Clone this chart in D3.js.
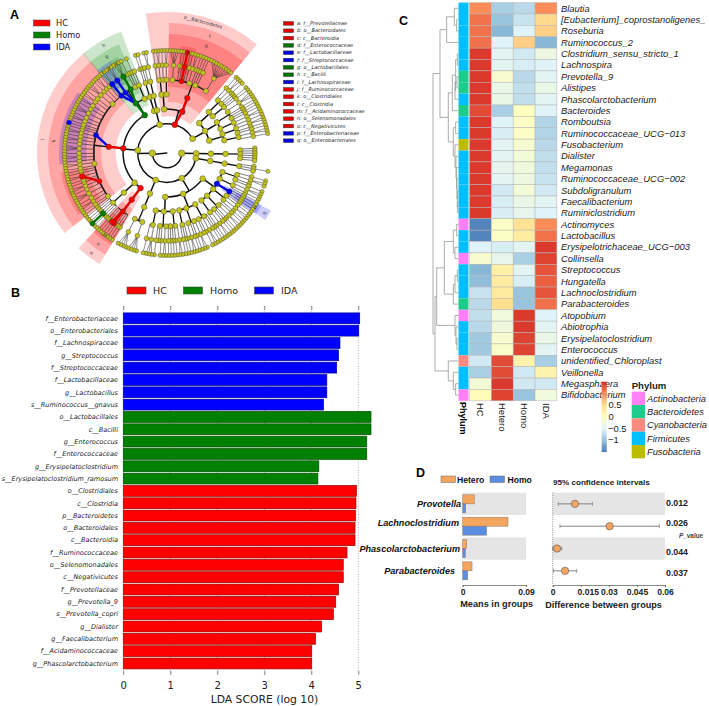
<!DOCTYPE html>
<html>
<head>
<meta charset="utf-8">
<script src="https://cdn.jsdelivr.net/npm/d3@7"></script>
<style>
  body { margin: 0; background: #fff; }
  svg { display: block; }
  .mpl { font-family: "DejaVu Sans", sans-serif; }
  .arial { font-family: "Liberation Sans", Arial, sans-serif; }
</style>
</head>
<body>
<svg id="fig" width="709" height="706"></svg>
<script>
//Colours of the three LEfSe groups
const groupNames = ["HC", "Homo", "IDA"];
const groupColors = ["#ff0000", "#008000", "#0000ff"];

//A: the clades which are highlighted
const hcClades = ["p__Bacteroidetes", "c__Bacteroidia", "o__Bacteroidales", "f__Prevotellaceae", "g__Prevotella_9", "s__Prevotella_copri",
  "c__Clostridia", "o__Clostridiales", "f__Ruminococcaceae", "g__Faecalibacterium",
  "c__Negativicutes", "o__Selenomonadales", "f__Acidaminococcaceae", "g__Dialister", "g__Phascolarctobacterium"];
const homoClades = ["c__Bacilli", "o__Lactobacillales", "f__Enterococcaceae", "g__Enterococcus", "g__Erysipelatoclostridium", "s__Erysipelatoclostridium_ramosum"];
const idaClades = ["f__Lachnospiraceae", "s__Ruminococcus__gnavus", "f__Lactobacillaceae", "g__Lactobacillus",
  "f__Streptococcaceae", "g__Streptococcus", "o__Enterobacteriales", "f__Enterobacteriaceae"];

//A: legend of the cladogram, letter comes from the position
const cladeLegend = ["f__Prevotellaceae", "o__Bacteroidales", "c__Bacteroidia", "f__Enterococcaceae", "f__Lactobacillaceae", "f__Streptococcaceae",
  "o__Lactobacillales", "c__Bacilli", "f__Lachnospiraceae", "f__Ruminococcaceae", "o__Clostridiales", "c__Clostridia",
  "f__Acidaminococcaceae", "o__Selenomonadales", "c__Negativicutes", "f__Enterobacteriaceae", "o__Enterobacteriales"];

//A: taxonomy, one list per phylum. [name, ...children], a number n is an unnamed clade with n leaves under it
const archaea = ["", ["", ["", ["", ["", 0, 0], ["", 0, 0], ["", 0, 0]]]]];
const tenericutes = ["", ["", ["", ["", 0, 1, 0]]]];
const proteobacteria = ["",
  ["", ["", ["", 1, 2], ["", 0, 1]], ["", ["", 2, 1, 1]],
    ["o__Enterobacteriales", ["f__Enterobacteriaceae", 1, 1, 1]],
    ["", ["", 1, 1], ["", 2, 1]], ["", ["", 1, 2, 1], ["", 1, 1]], ["", ["", 2, 1]]],
  ["", ["", ["", 1, 1, 2], ["", 1, 0]], ["", ["", 2, 1], ["", 1, 2]], ["", ["", 1, 1, 1]]],
  ["", ["", ["", 2, 1, 1], ["", 1]], ["", ["", 1, 2], ["", 1, 0, 1]], ["", ["", 3, 1]]]];
const saccharibacteria = ["", ["", ["", ["", 4], ["", 4]]]];
const firmicutes = ["p__Firmicutes",
  ["c__Negativicutes", ["o__Selenomonadales", ["f__Acidaminococcaceae", 1, 1, 1, ["g__Phascolarctobacterium", 0], ["g__Dialister", 0], 1, 1]]],
  ["", ["", ["", 1, 1, ["g__Erysipelatoclostridium", ["s__Erysipelatoclostridium_ramosum"]], 1, 1, 1]]],
  ["c__Clostridia", ["o__Clostridiales",
    ["", 1, 1],
    ["f__Ruminococcaceae", 2, 1, 3, 1, 2, 1, 1, ["g__Faecalibacterium", 0, 0], 1, 1],
    ["", 1, 2],
    ["f__Lachnospiraceae", 1, 2, 1, 3, 1, 2, 1, 2, 1, ["", ["s__Ruminococcus__gnavus"]], 1, 2, 1, 3, 1, 2],
    ["", 2, 1, 3, 1, 2, 1]]],
  ["c__Bacilli",
    ["o__Lactobacillales",
      ["f__Streptococcaceae", ["g__Streptococcus", 0, 0]],
      ["f__Lactobacillaceae", ["g__Lactobacillus", 0, 0, 0]],
      ["f__Enterococcaceae", ["g__Enterococcus", 0, 0, 0]],
      ["", 1, 0]],
    ["", ["", 1, 0]]]];
const fusobacteria = ["", ["", ["", ["", 1, 1]]], ["", ["", ["", 0, 2]]]];
const bacteroidetes = ["p__Bacteroidetes",
  ["", ["", ["", 1, 2], ["", 1]], ["", ["", 2]]],
  ["c__Bacteroidia", ["o__Bacteroidales",
    ["", 4],
    ["f__Prevotellaceae", 1, 1, ["g__Prevotella_9", ["s__Prevotella_copri"]], 1, 1],
    ["", 2, 1],
    ["", 1, 1, 1],
    ["", 9]]]];
const actinobacteria = ["",
  ["", ["", ["", 1, 2], ["", 1, 0]], ["", ["", 1, 1]]],
  ["", ["", ["", 3, 1], ["", 1, 1, 1]], ["", ["", 2]]],
  ["", ["", ["", 1, 2, 1], ["", 1]], ["", ["", 2, 1]]]];
const bacteria = ["", tenericutes, proteobacteria, saccharibacteria, firmicutes, fusobacteria, bacteroidetes, actinobacteria];

//B: LDA scores, top to bottom
const ldaNames = ["f__Enterobacteriaceae", "o__Enterobacteriales", "f__Lachnospiraceae", "g__Streptococcus", "f__Streptococcaceae", "f__Lactobacillaceae", "g__Lactobacillus", "s__Ruminococcus__gnavus",
  "o__Lactobacillales", "c__Bacilli", "g__Enterococcus", "f__Enterococcaceae", "g__Erysipelatoclostridium", "s__Erysipelatoclostridium_ramosum",
  "o__Clostridiales", "c__Clostridia", "p__Bacteroidetes", "o__Bacteroidales", "c__Bacteroidia", "f__Ruminococcaceae", "o__Selenomonadales", "c__Negativicutes", "f__Prevotellaceae", "g__Prevotella_9", "s__Prevotella_copri", "g__Dialister", "g__Faecalibacterium", "f__Acidaminococcaceae", "g__Phascolarctobacterium"];
const ldaScores = [5.03, 5.01, 4.61, 4.58, 4.54, 4.33, 4.33, 4.26,
  5.27, 5.27, 5.18, 5.18, 4.16, 4.14,
  4.96, 4.95, 4.94, 4.93, 4.93, 4.76, 4.68, 4.68, 4.58, 4.52, 4.47, 4.22, 4.09, 4.01, 4.01];
const ldaGroups = [2, 2, 2, 2, 2, 2, 2, 2, 1, 1, 1, 1, 1, 1, 0, 0, 0, 0, 0, 0, 0, 0, 0, 0, 0, 0, 0, 0, 0];

//C: heatmap
const heatColumns = ["HC", "Hetero", "Homo", "IDA"];
const heatGenera = ["Blautia", "[Eubacterium]_coprostanoligenes_", "Roseburia", "Ruminococcus_2", "Clostridium_sensu_stricto_1", "Lachnospira", "Prevotella_9", "Alistipes", "Phascolarctobacterium", "Bacteroides", "Romboutsia", "Ruminococcaceae_UCG\u2212013", "Fusobacterium", "Dialister", "Megamonas", "Ruminococcaceae_UCG\u2212002", "Subdoligranulum", "Faecalibacterium", "Ruminiclostridium",
  "Actinomyces", "Lactobacillus", "Erysipelotrichaceae_UCG\u2212003", "Collinsella", "Streptococcus", "Hungatella", "Lachnoclostridium", "Parabacteroides",
  "Atopobium", "Abiotrophia", "Erysipelatoclostridium", "Enterococcus", "unidentified_Chloroplast", "Veillonella", "Megasphaera", "Bifidobacterium"];
const heatValues = [
  [1.0, -0.85, -0.75, 1.0], [1.15, -0.95, -0.65, 0.55], [1.15, -1.05, -0.5, 0.6], [1.15, -0.5, 0.6, -1.05],
  [1.45, -0.45, -0.6, -0.3], [1.45, -0.45, -0.55, -0.5], [1.45, -0.15, -0.75, -0.45], [1.45, -0.35, -0.7, -0.35],
  [1.45, -0.35, -0.7, -0.45], [1.35, -0.85, 0.0, -0.5], [1.45, -0.5, -0.05, -0.8], [1.45, -0.55, -0.05, -0.8],
  [1.45, -0.45, -0.15, -0.75], [1.45, -0.45, -0.2, -0.7], [1.45, -0.4, -0.25, -0.7], [1.45, -0.45, -0.3, -0.65],
  [1.45, -0.6, -0.2, -0.6], [1.45, -0.55, -0.35, -0.45], [1.45, -0.55, -0.4, -0.5],
  [-1.4, -0.05, 0.45, 1.0], [-1.4, -0.05, 0.3, 1.15], [-0.5, -0.55, -0.45, 1.45], [-0.15, -0.4, -0.85, 1.4],
  [-1.05, 0.25, -0.45, 1.3], [-1.0, 0.3, -0.55, 1.25], [-0.65, 0.35, -0.95, 1.3], [-0.75, 0.5, -0.95, 1.15],
  [-0.7, -0.25, 1.45, -0.5], [-0.75, -0.25, 1.45, -0.45], [-0.9, -0.15, 1.4, -0.35], [-0.9, -0.1, 1.4, -0.45],
  [-0.6, 1.35, 0.2, -0.85], [-0.85, 1.35, -0.6, 0.2], [-0.2, 1.45, -0.6, -0.6], [0.05, 1.4, -0.95, -0.25]];
const phylumNames = ["Actinobacteria", "Bacteroidetes", "Cyanobacteria", "Firmicutes", "Fusobacteria"];
const phylumColors = ["#ff80f7", "#1dcc8a", "#fa8a80", "#00bfff", "#bdbd00"];
const heatPhylum = [3, 3, 3, 3, 3, 3, 1, 1, 3, 1, 3, 3, 4, 3, 3, 3, 3, 3, 3, 0, 3, 3, 0, 3, 3, 3, 1, 0, 3, 3, 3, 2, 3, 3, 0];
const heatStops = [-1.5, -1, -0.5, 0, 0.5, 1, 1.5];
const heatStopColors = ["#4575b4", "#91bfdb", "#e0f3f8", "#ffffbf", "#fee090", "#fc8d59", "#d73027"];
const heatTicks = [0.5, 0, -0.5, -1];

//C: row dendrogram as [height, left, right], numbers are row indexes
const dendroTop = [0.55,
  [0.35, [0.12, 0, [0.05, 1, 2]], 3],
  [0.3, [0.18, [0.08, [0.03, 4, 5], [0.1, [0.04, 6, 7], 8]], 9],
    [0.15, [0.08, 10, 11], [0.1, 12, [0.07, 13, [0.05, 14, [0.04, 15, [0.03, 16, [0.02, 17, 18]]]]]]]]];
const dendroMiddle = [0.42,
  [0.15, [0.05, 19, 20], [0.1, 21, 22]],
  [0.15, [0.1, [0.03, 23, 24], 25], 26]];
const dendroLower = [0.1, 27, [0.07, 28, [0.04, 29, 30]]];
const dendroBottom = [0.3, 31, [0.15, 32, [0.08, 33, 34]]];
const dendroRoot = [0.76, dendroTop, [0.7, [0.65, dendroMiddle, dendroLower], dendroBottom]];

//D: two group comparison
const dGenera = ["Provotella", "Lachnoclostridium", "Phascolarctobacterium", "Parabacteroides"];
const dGroups = ["Hetero", "Homo"];
const dGroupColors = ["#f4a55f", "#5b8ee0"];
const dHeteroMeans = [0.0166, 0.0644, 0.0057, 0.0133];
const dHomoMeans = [0.0043, 0.0341, 0.0038, 0.0071];
const dDiff = [0.0119, 0.0304, 0.0023, 0.0066];
const dDiffLow = [0.003, 0.0039, 0.0, 0.0004];
const dDiffHigh = [0.0212, 0.057, 0.0048, 0.0128];
const dPValues = ["0.012", "0.026", "0.044", "0.037"];
const dMeanTicks = [0, 0.09];
const dDiffTicks = [0, 0.015, 0.03, 0.045, 0.06];

const svg = d3.select("#fig");

function panelLetter(txt, x, y) {
  svg.append("text").attr("class", "arial").attr("x", x).attr("y", y)
    .attr("font-size", 12.5).attr("font-weight", "bold").text(txt);
}
panelLetter("A", 10, 19);
panelLetter("B", 11, 297);
panelLetter("C", 399, 25);
panelLetter("D", 416, 477);

//--- A. cladogram ---
function drawCladogram() {
  const cx = 167, cy = 153, step = 14.65;
  const g = svg.append("g").attr("transform", "translate(" + cx + "," + cy + ")");
  const startDeg = 85;

  function build(n) {
    if (typeof n === "number") return { name: "", kids: d3.range(n).map(() => ({ name: "", kids: [] })) };
    return { name: n[0], kids: n.slice(1).map(build) };
  }
  const root = d3.hierarchy(build(["", archaea, bacteria]), d => d.kids);
  const phylumOf = n => n.ancestors().find(a => a.depth === 2);
  d3.cluster().size([356, 1]).separation((a, b) => phylumOf(a) === phylumOf(b) ? 1 : 2.4)(root);

  //parents sit in the middle of their leaves
  root.each(n => {
    n.deg = startDeg + d3.mean(n.leaves(), l => l.x);
    n.ang = n.deg * Math.PI / 180;
    n.rad = n.depth * step;
  });
  const slot = 356 / root.leaves().length;

  const groupOf = name => hcClades.includes(name) ? 0 : homoClades.includes(name) ? 1 : idaClades.includes(name) ? 2 : -1;
  const nodes = root.descendants();
  const arc = d3.arc();
  const pt = (a, r) => d3.pointRadial(a, r);

  //shaded sectors, shallow ones first
  const shaded = nodes.filter(n => cladeLegend.includes(n.data.name) || n.data.name === "p__Bacteroidetes")
    .sort((a, b) => a.depth - b.depth);
  shaded.forEach(n => {
    const deg = n.leaves().map(l => startDeg + l.x);
    n.a0 = (d3.min(deg) - slot * 0.6) * Math.PI / 180;
    n.a1 = (d3.max(deg) + slot * 0.6) * Math.PI / 180;
    n.outer = 163 - 11 * n.depth;
    n.label = n.data.name === "p__Bacteroidetes" ? n.data.name : String.fromCharCode(97 + cladeLegend.indexOf(n.data.name));
  });
  g.selectAll("path.sector").data(shaded).join("path").attr("class", "sector")
    .attr("d", n => arc({ innerRadius: n.rad + step / 2, outerRadius: n.outer, startAngle: n.a0, endAngle: n.a1 }))
    .attr("fill", n => groupColors[groupOf(n.data.name)]).attr("fill-opacity", 0.2);

  //branches: arcs at the child ring for the inner levels, thin fans further out
  nodes.filter(n => n.children).forEach(n => {
    const childRad = (n.depth + 1) * step;
    const lo = d3.min(n.children, c => c.ang), hi = d3.max(n.children, c => c.ang);
    const width = n.depth <= 3 ? 1.5 : n.depth === 4 ? 1.3 : 0.7;
    if (n.depth <= 4) {
      const [x0, y0] = pt(n.ang, n.rad), [x1, y1] = pt(n.ang, childRad);
      g.append("line").attr("x1", x0).attr("y1", y0).attr("x2", x1).attr("y2", y1).attr("stroke", "#111").attr("stroke-width", width);
      if (hi > lo) g.append("path").attr("d", arc({ innerRadius: childRad, outerRadius: childRad, startAngle: lo, endAngle: hi }))
        .attr("fill", "none").attr("stroke", "#111").attr("stroke-width", width);
    } else if (n.depth === 5) {
      if (hi > lo) g.append("path").attr("d", arc({ innerRadius: n.rad, outerRadius: n.rad, startAngle: lo, endAngle: hi }))
        .attr("fill", "none").attr("stroke", "#222").attr("stroke-width", 0.8);
      n.children.forEach(c => {
        const [x0, y0] = pt(c.ang, n.rad), [x1, y1] = pt(c.ang, childRad);
        g.append("line").attr("x1", x0).attr("y1", y0).attr("x2", x1).attr("y2", y1).attr("stroke", "#222").attr("stroke-width", 0.6);
      });
    } else {
      n.children.forEach(c => {
        const [x0, y0] = pt(n.ang, n.rad), [x1, y1] = pt(c.ang, childRad);
        g.append("line").attr("x1", x0).attr("y1", y0).attr("x2", x1).attr("y2", y1).attr("stroke", "#222").attr("stroke-width", 0.5);
      });
    }
  });

  //thick coloured branch between two highlighted clades, only where the child sits almost straight out of the parent
  nodes.filter(n => n.parent && groupOf(n.data.name) >= 0 && groupOf(n.parent.data.name) >= 0 && Math.abs(n.deg - n.parent.deg) < 8).forEach(n => {
    const [x0, y0] = pt(n.parent.ang, n.parent.rad), [x1, y1] = pt(n.ang, n.rad);
    g.append("line").attr("x1", x0).attr("y1", y0).attr("x2", x1).attr("y2", y1)
      .attr("stroke", d3.color(groupColors[groupOf(n.data.name)]).darker(0.3)).attr("stroke-width", 2.4);
  });

  const sizeByDepth = [0.4, 3.3, 3, 2.9, 2.8, 2.6, 2.4, 2.1];
  g.selectAll("circle").data(nodes.slice().sort((a, b) => groupOf(a.data.name) - groupOf(b.data.name))).join("circle")
    .attr("cx", n => pt(n.ang, n.rad)[0]).attr("cy", n => pt(n.ang, n.rad)[1])
    .attr("r", n => sizeByDepth[n.depth] + (groupOf(n.data.name) >= 0 && n.depth > 5 ? 0.4 : 0))
    .attr("fill", n => groupOf(n.data.name) >= 0 ? groupColors[groupOf(n.data.name)] : "#c4c41e")
    .attr("stroke", "#333").attr("stroke-width", 0.4);

  //sector labels turn with the sector
  g.selectAll("text.sector-label").data(shaded).join("text").attr("class", "mpl sector-label")
    .attr("transform", n => {
      const mid = (n.a0 + n.a1) / 2, deg = mid * 180 / Math.PI, [x, y] = pt(mid, n.outer - 5);
      const lower = ((deg % 360) + 360) % 360;
      return "translate(" + x + "," + y + ") rotate(" + (lower > 90 && lower < 270 ? deg + 180 : deg) + ")";
    })
    .attr("text-anchor", "middle").attr("dy", "0.35em")
    .attr("font-size", 4.6).attr("fill", "#333").text(n => n.label);

  //group legend
  const leg = svg.append("g").attr("class", "mpl");
  groupNames.forEach((name, i) => {
    leg.append("rect").attr("x", 33.5).attr("y", 20 + i * 12).attr("width", 16.5).attr("height", 6)
      .attr("fill", groupColors[i]).attr("stroke", "#444").attr("stroke-width", 0.5);
    leg.append("text").attr("x", 56).attr("y", 26 + i * 12).attr("font-size", 8.2).attr("fill", "#222").text(name);
  });

  //letter legend
  const key = svg.append("g").attr("class", "mpl");
  cladeLegend.forEach((name, i) => {
    const col = groupColors[groupOf(name)];
    const y = 23.4 + i * 7.33;
    key.append("rect").attr("x", 283.5).attr("y", y - 1.8).attr("width", 10).attr("height", 3.6)
      .attr("fill", d3.color(col).darker(0.3)).attr("stroke", "#333").attr("stroke-width", 0.5);
    key.append("text").attr("x", 297).attr("y", y + 1.7).attr("font-size", 5).attr("font-style", "italic").attr("fill", "#222")
      .text(String.fromCharCode(97 + i) + ": " + name);
  });
}

//--- B. LDA bars ---
function drawLda() {
  const g = svg.append("g").attr("class", "mpl");
  const x = d3.scaleLinear().domain([0, 5]).range([123.3, 358.3]);
  const y = d3.scaleBand().domain(ldaNames).range([312.9, 668.9]).paddingInner(0.12).paddingOuter(0);

  x.ticks(5).forEach(t => {
    g.append("line").attr("x1", x(t)).attr("x2", x(t)).attr("y1", 306).attr("y2", 675)
      .attr("stroke", "#777").attr("stroke-width", 0.6).attr("stroke-dasharray", "1,1.6");
  });

  g.selectAll("rect.bar").data(ldaNames).join("rect").attr("class", "bar")
    .attr("x", x(0)).attr("y", d => y(d))
    .attr("width", (d, i) => x(ldaScores[i]) - x(0)).attr("height", y.bandwidth())
    .attr("fill", (d, i) => groupColors[ldaGroups[i]])
    .attr("stroke", (d, i) => d3.color(groupColors[ldaGroups[i]]).darker(1.4)).attr("stroke-width", 0.7);

  g.selectAll("text.name").data(ldaNames).join("text").attr("class", "name")
    .attr("x", 118).attr("y", d => y(d) + y.bandwidth() / 2).attr("dy", "0.35em")
    .attr("text-anchor", "end").attr("font-size", 6.5).attr("font-style", "italic").attr("fill", "#222").text(d => d);

  const bottom = g.append("g").attr("transform", "translate(0,675)")
    .call(d3.axisBottom(x).ticks(5).tickSize(-4).tickPadding(7));
  bottom.select(".domain").remove();
  bottom.selectAll("text").attr("font-size", 10).attr("font-family", "DejaVu Sans").attr("fill", "#222");
  const top = g.append("g").attr("transform", "translate(0,306)")
    .call(d3.axisTop(x).ticks(5).tickSize(-4).tickFormat(""));
  top.select(".domain").remove();
  g.selectAll(".tick line").attr("stroke", "#444").attr("stroke-width", 0.6);

  g.append("text").attr("x", 264.5).attr("y", 702.5).attr("text-anchor", "middle")
    .attr("font-size", 10.8).attr("fill", "#222").text("LDA SCORE (log 10)");

  const swatchX = [127, 183.5, 254.5], labelX = [153, 210, 281];
  groupNames.forEach((name, i) => {
    g.append("rect").attr("x", swatchX[i]).attr("y", 287).attr("width", 19).attr("height", 7)
      .attr("fill", groupColors[i]).attr("stroke", "#444").attr("stroke-width", 0.6);
    g.append("text").attr("x", labelX[i]).attr("y", 293.8).attr("font-size", 9.5).attr("fill", "#222").text(name);
  });
}

//--- C. heatmap ---
function drawHeatmap() {
  const g = svg.append("g").attr("class", "arial");
  const x = d3.scaleBand().domain(heatColumns).range([469.5, 556.9]);
  const y = d3.scaleBand().domain(heatGenera).range([2.6, 400.8]);
  const color = d3.scaleLinear().domain(heatStops).range(heatStopColors);

  //rows
  heatGenera.forEach((name, i) => {
    g.append("rect").attr("x", 458.5).attr("y", y(name)).attr("width", 10).attr("height", y.bandwidth())
      .attr("fill", phylumColors[heatPhylum[i]]);
    g.selectAll(null).data(heatValues[i]).join("rect")
      .attr("x", (d, j) => x(heatColumns[j])).attr("y", y(name))
      .attr("width", x.bandwidth()).attr("height", y.bandwidth())
      .attr("fill", d => color(d)).attr("stroke", "#b5b5b5").attr("stroke-width", 0.5);
    g.append("text").attr("x", 561).attr("y", y(name) + y.bandwidth() / 2).attr("dy", "0.35em")
      .attr("font-size", 9.4).attr("font-style", "italic").attr("fill", "#222").text(name);
  });

  //column names read downwards
  heatColumns.forEach(name => {
    g.append("text").attr("transform", "translate(" + (x(name) + x.bandwidth() / 2) + ",403) rotate(90)")
      .attr("dy", "0.35em").attr("font-size", 9.5).attr("fill", "#222").text(name);
  });
  g.append("text").attr("transform", "translate(463.5,402) rotate(90)").attr("dy", "0.35em")
    .attr("font-size", 9).attr("font-weight", "bold").text("Phylum");

  //dendrogram
  const hx = d3.scaleLinear().domain([0, 1]).range([458.3, 425]);
  const tree = d3.hierarchy(dendroRoot, d => Array.isArray(d) ? d.slice(1) : null);
  tree.eachAfter(n => {
    n.py = n.children ? d3.mean(n.children, c => c.py) : y(heatGenera[n.data]) + y.bandwidth() / 2;
    n.h = n.children ? n.data[0] : 0;
  });
  const elbows = tree.descendants().filter(n => n.children).map(n => {
    const [a, b] = n.children;
    return "M" + hx(a.h) + "," + a.py + "H" + hx(n.h) + "V" + b.py + "H" + hx(b.h);
  });
  g.append("path").attr("d", elbows.join("")).attr("fill", "none").attr("stroke", "#8a8a8a").attr("stroke-width", 0.7);

  //colour bar, drawn after the labels because it sits over them
  const barY = d3.scaleLinear().domain([1.5, -1.5]).range([381.7, 451.7]);
  g.selectAll(null).data(d3.range(1.5, -1.5, -0.05)).join("rect")
    .attr("x", 601.7).attr("y", d => barY(d)).attr("width", 5).attr("height", barY(0) - barY(0.05) + 0.4)
    .attr("fill", d => color(d));
  heatTicks.forEach(t => {
    g.append("text").attr("x", t < 0 ? 608 : 608.5).attr("y", barY(t)).attr("dy", "0.35em").attr("font-size", 9.4).attr("fill", "#222")
      .text(t < 0 ? "\u2212" + Math.abs(t) : t);
  });

  //phylum legend
  g.append("text").attr("x", 631.7).attr("y", 389).attr("font-size", 9.6).attr("font-weight", "bold").attr("fill", "#222").text("Phylum");
  phylumNames.forEach((name, i) => {
    g.append("rect").attr("x", 631.7).attr("y", 391.7 + i * 13.33).attr("width", 13.3).attr("height", 13.33).attr("fill", phylumColors[i]);
    g.append("text").attr("x", 647).attr("y", 398.4 + i * 13.33).attr("dy", "0.35em")
      .attr("font-size", 9.3).attr("font-style", "italic").attr("fill", "#222").text(name);
  });
}

//--- D. extended error bars ---
function drawComparison() {
  const g = svg.append("g").attr("class", "arial");
  const y = d3.scaleBand().domain(dGenera).range([492.7, 582]);
  const xMean = d3.scaleLinear().domain([0, 0.09]).range([462.7, 526]);
  const xDiff = d3.scaleLinear().domain([0, 0.06]).range([552.7, 665]);
  const h = 9;

  //grey stripes on the 1st and 3rd row
  [dGenera[0], dGenera[2]].forEach(name => {
    g.append("rect").attr("x", 462.7).attr("y", y(name)).attr("width", 63.3).attr("height", y.bandwidth()).attr("fill", "#e5e5e5");
    g.append("rect").attr("x", 552.7).attr("y", y(name)).attr("width", 112.3).attr("height", y.bandwidth()).attr("fill", "#e5e5e5");
  });

  const labelRight = [461, 459, 460, 455], labelDy = [0, -3.8, 0.2, 0.2];
  dGenera.forEach((name, i) => {
    const mid = y(name) + y.bandwidth() / 2;
    g.append("text").attr("x", labelRight[i]).attr("y", mid + labelDy[i]).attr("dy", "0.35em").attr("text-anchor", "end")
      .attr("font-size", 9.1).attr("font-weight", "bold").attr("font-style", "italic").attr("fill", "#111").text(name);
    [dHeteroMeans[i], dHomoMeans[i]].forEach((v, k) => {
      g.append("rect").attr("x", xMean(0)).attr("y", mid - h + k * h).attr("width", xMean(v) - xMean(0)).attr("height", h)
        .attr("fill", dGroupColors[k]).attr("stroke", "#8a7a6a").attr("stroke-width", 0.5);
    });
    g.append("line").attr("x1", xDiff(dDiffLow[i])).attr("x2", xDiff(dDiffHigh[i])).attr("y1", mid).attr("y2", mid).attr("stroke", "#777").attr("stroke-width", 0.9);
    [dDiffLow[i], dDiffHigh[i]].forEach(v => {
      g.append("line").attr("x1", xDiff(v)).attr("x2", xDiff(v)).attr("y1", mid - 2).attr("y2", mid + 2).attr("stroke", "#777").attr("stroke-width", 0.7);
    });
    g.append("circle").attr("cx", xDiff(dDiff[i])).attr("cy", mid).attr("r", 3.7)
      .attr("fill", dGroupColors[0]).attr("stroke", "#555").attr("stroke-width", 0.6);
  });

  //zero line
  g.append("line").attr("x1", xDiff(0)).attr("x2", xDiff(0)).attr("y1", 492.7).attr("y2", 585)
    .attr("stroke", "#666").attr("stroke-width", 0.7).attr("stroke-dasharray", "1,1.2");

  function styleAxis(sel) {
    sel.select(".domain").attr("stroke", "#555").attr("stroke-width", 0.7);
    sel.selectAll(".tick line").attr("stroke", "#555").attr("stroke-width", 0.7);
    sel.selectAll("text").attr("font-size", 8.6).attr("font-weight", "bold").attr("font-family", "Liberation Sans").attr("fill", "#222");
  }
  g.append("g").attr("transform", "translate(0,585)")
    .call(d3.axisBottom(xMean).tickValues(dMeanTicks).tickFormat(d => d).tickSizeOuter(0).tickSize(2).tickPadding(2))
    .call(styleAxis);
  g.append("g").attr("transform", "translate(0,585)")
    .call(d3.axisBottom(xDiff).tickValues(dDiffTicks).tickFormat(d => d).tickSizeOuter(0).tickSize(2).tickPadding(2))
    .call(styleAxis)
    .selectAll("text").filter(d => d === 0.015).attr("dx", 7);

  g.append("text").attr("x", 496.7).attr("y", 606.5).attr("text-anchor", "middle").attr("font-size", 9.2).attr("font-weight", "bold").attr("fill", "#222").text("Means in groups");
  g.append("text").attr("x", 603.5).attr("y", 607.5).attr("text-anchor", "middle").attr("font-size", 9.1).attr("font-weight", "bold").attr("fill", "#222").text("Difference between groups");

  //p values, slightly off the rows in the original too
  const pDy = [-1, -3, 3, 2.5];
  dPValues.forEach((p, i) => {
    g.append("text").attr("x", 666).attr("y", y(dGenera[i]) + y.bandwidth() / 2 + pDy[i]).attr("dy", "0.35em")
      .attr("font-size", 8.8).attr("font-weight", "bold").attr("fill", "#222").text(p);
  });
  g.append("text").attr("x", 679).attr("y", 537.5).attr("font-size", 6.4).attr("font-weight", "bold").attr("fill", "#444")
    .html('<tspan font-style="italic">P</tspan>_value');

  g.append("text").attr("x", 553).attr("y", 485).attr("font-size", 8.1).attr("font-weight", "bold").attr("fill", "#222").text("95% confidence intervals");

  //group legend
  const swatchX = [441, 490], labelX = [457, 507.5];
  dGroups.forEach((name, i) => {
    g.append("rect").attr("x", swatchX[i]).attr("y", 476).attr("width", 14.5).attr("height", 6.5)
      .attr("fill", dGroupColors[i]).attr("stroke", "#666").attr("stroke-width", 0.5);
    g.append("text").attr("x", labelX[i]).attr("y", 482.5).attr("font-size", 8.6).attr("font-weight", "bold").attr("fill", "#111").text(name);
  });
}

drawCladogram();
drawLda();
drawHeatmap();
drawComparison();
</script>
</body>
</html>
